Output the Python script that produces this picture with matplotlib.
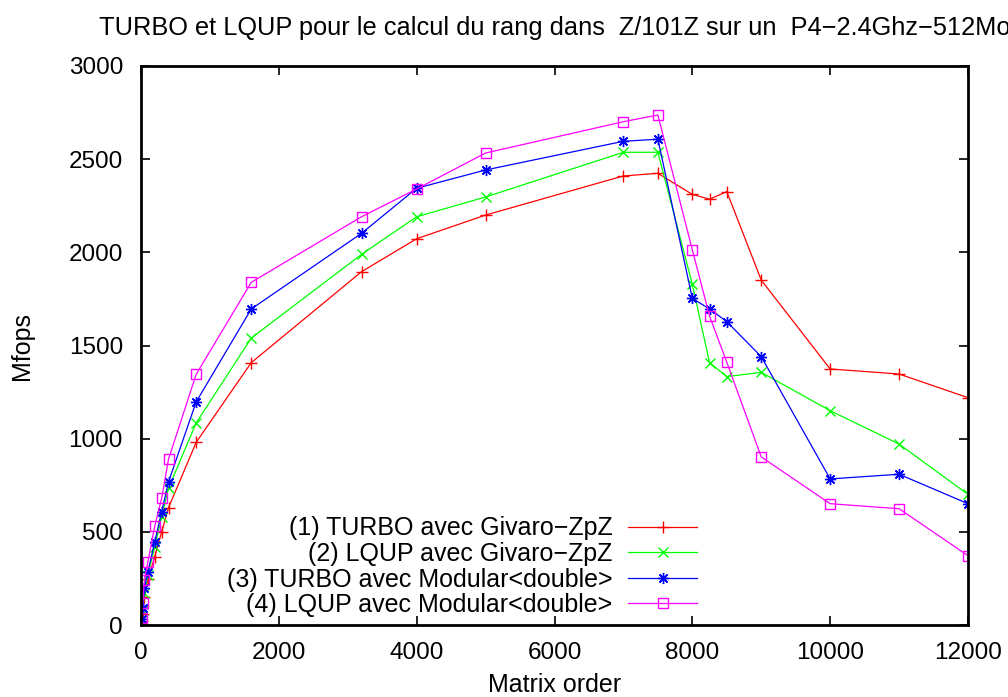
import numpy as np
import matplotlib
matplotlib.use("Agg")
import matplotlib.pyplot as plt

plt.rcParams['font.family'] = ['Liberation Sans', 'DejaVu Sans']

# matrix orders
orders = [10, 25, 50, 100, 200, 300, 400, 800, 1600, 3200, 4000, 5000,
          7000, 7500, 8000, 8250, 8500, 9000, 10000, 11000, 12000]

# Mfops per series
turbo_givaro = [20, 60, 150, 245, 367, 500, 630, 980, 1408, 1896, 2073, 2200,
                2410, 2424, 2311, 2285, 2326, 1851, 1374, 1347, 1220]
lqup_givaro = [25, 80, 170, 270, 420, 580, 735, 1084, 1540, 1989, 2191, 2297,
               2537, 2537, 1828, 1408, 1333, 1356, 1150, 971, 701]
turbo_modular = [30, 90, 197, 286, 447, 608, 769, 1197, 1696, 2102, 2344, 2442,
                 2596, 2607, 1753, 1696, 1628, 1440, 784, 809, 651]
lqup_modular = [40, 118, 242, 340, 531, 680, 891, 1345, 1839, 2191, 2340, 2533,
                2701, 2737, 2013, 1658, 1410, 902, 651, 624, 372]

labels = ['(1) TURBO avec Givaro\u2212ZpZ',
          '(2) LQUP avec Givaro\u2212ZpZ',
          '(3) TURBO avec Modular<double>',
          '(4) LQUP avec Modular<double>']

fig = plt.figure(figsize=(10.08, 6.97), dpi=100)
ax = fig.add_axes([141/1008, 1 - 625/697, (968-141)/1008, (625-66)/697])

lw = 0.9
ax.plot(orders, turbo_givaro, color='#ff0000', lw=lw, marker='+', ms=8, mew=1.0, label=labels[0])
ax.plot(orders, lqup_givaro, color='#00ff00', lw=lw, marker='x', ms=7, mew=1.0, label=labels[1])
ax.plot(orders, turbo_modular, color='#0000ff', lw=lw, marker=(8, 2, 0), ms=8, mew=1.0, label=labels[2])
ax.plot(orders, lqup_modular, color='#ff00ff', lw=lw, marker='s', ms=7, mew=1.0,
        markerfacecolor='none', label=labels[3])

ax.set_xlim(0, 12000)
ax.set_ylim(0, 3000)
ax.set_xticks(np.arange(0, 12001, 2000))
ax.set_yticks(np.arange(0, 3001, 500))
ax.tick_params(direction='in', length=6.5, width=1.2, top=True, right=True,
               labelsize=17.5)
ax.tick_params(axis='x', pad=12)
ax.tick_params(axis='y', pad=13)
for axis in ['top', 'bottom', 'left', 'right']:
    ax.spines[axis].set_linewidth(2)

ax.set_xlabel('Matrix order', fontsize=18, labelpad=7)
ax.set_ylabel('Mfops', fontsize=18, labelpad=25)
ax.set_title('TURBO et LQUP pour le calcul du rang dans  Z/101Z sur un  P4\u22122.4Ghz\u2212512Mo',
             fontsize=18.3, pad=22)

ax.legend(loc='lower right', bbox_to_anchor=(697/1008, (697-617)/697),
          bbox_transform=fig.transFigure, frameon=False, markerfirst=False,
          fontsize=18, handlelength=2.75, handletextpad=0.62, labelspacing=0.06,
          borderpad=0, borderaxespad=0)

fig.savefig('out.png', dpi=100)
